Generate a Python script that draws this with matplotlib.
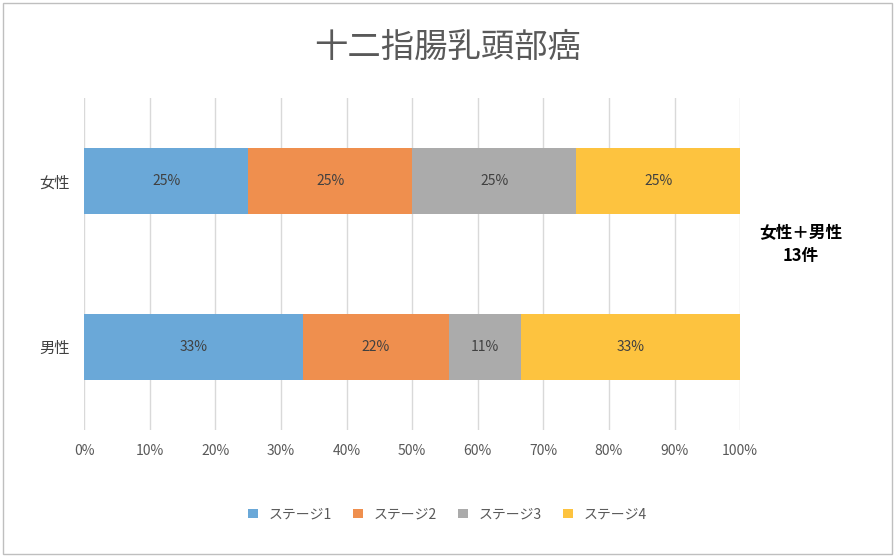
import matplotlib
matplotlib.use("Agg")
import matplotlib.pyplot as plt
from matplotlib.patches import Rectangle

plt.rcParams["font.family"] = ["Noto Sans CJK JP"]

categories = ["男性", "女性"]
stages = ["ステージ1", "ステージ2", "ステージ3", "ステージ4"]
counts = {"男性": [3, 2, 1, 3], "女性": [1, 1, 1, 1]}
colors = ["#6AA8D8", "#EF8F4E", "#ABABAB", "#FDC33F"]
ticks = [0, 10, 20, 30, 40, 50, 60, 70, 80, 90, 100]

fig = plt.figure(figsize=(8.95, 5.56), dpi=100)
ax = fig.add_axes([0.094, 0.227, 0.733, 0.597])
fig.patches.append(Rectangle((0.003, 0.004), 0.994, 0.99, transform=fig.transFigure,
                             fill=False, edgecolor="#BFBFBF", linewidth=1))

for yi, cat in enumerate(categories):
    vals = counts[cat]
    tot = sum(vals)
    left = 0
    for si, v in enumerate(vals):
        pct = v / tot * 100
        ax.barh(yi, pct, left=left, height=0.4, color=colors[si],
                label=stages[si] if yi == 0 else None, zorder=3)
        ax.text(left + pct / 2, yi, f"{round(pct)}%", ha="center", va="center",
                fontsize=10, color="#404040", zorder=4)
        left += pct

ax.set_xlim(0, 100)
ax.set_ylim(-0.5, 1.5)
ax.set_xticks(ticks)
ax.set_xticklabels([f"{t}%" for t in ticks], fontsize=10, color="#595959")
ax.set_yticks(range(len(categories)))
ax.set_yticklabels(categories, fontsize=11, color="#404040")
ax.tick_params(length=0, pad=10)
ax.grid(axis="x", color="#D9D9D9", linewidth=1, zorder=0)
for s in ax.spines.values():
    s.set_visible(False)

fig.text(0.5, 0.915, "十二指腸乳頭部癌", ha="center", va="center", fontsize=24, color="#595959")
fig.text(0.895, 0.56, "女性＋男性\n13件", ha="center", va="center", fontsize=12,
         fontweight="bold", color="black", linespacing=1.3)

fig.legend(loc="center", bbox_to_anchor=(0.5, 0.075), ncol=4, frameon=False,
           fontsize=10, handlelength=0.7, handleheight=0.7, columnspacing=1.5,
           labelcolor="#595959")

fig.savefig("out.png", dpi=100)
